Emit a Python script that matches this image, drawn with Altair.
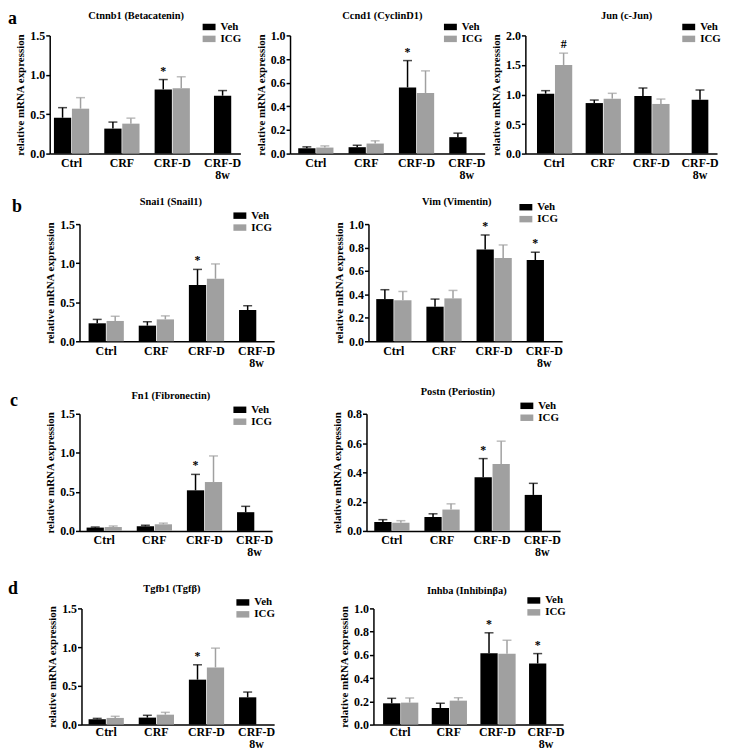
import altair as alt
import pandas as pd

# ---------------- data ----------------
CATEGORIES = ["Ctrl", "CRF", "CRF-D", "CRF-D 8w"]
GROUPS = ["Veh", "ICG"]
COLORS = ["#000000", "#a0a0a0"]
LETTERS = ["a", "b", "c", "d"]
Y_TITLE = "relative mRNA expression"

CTNNB1_VEH = [0.455, 0.317, 0.815, 0.735]
CTNNB1_VEH_ERR = [0.128, 0.083, 0.125, 0.065]
CTNNB1_ICG = [0.57, 0.38, 0.83]
CTNNB1_ICG_ERR = [0.14, 0.07, 0.145]
CTNNB1_SIG = [("CRF-D", "Veh", "*")]

CCND1_VEH = [0.045, 0.054, 0.56, 0.139]
CCND1_VEH_ERR = [0.012, 0.016, 0.227, 0.034]
CCND1_ICG = [0.051, 0.085, 0.513]
CCND1_ICG_ERR = [0.014, 0.023, 0.187]
CCND1_SIG = [("CRF-D", "Veh", "*")]

JUN_VEH = [1.014, 0.855, 0.975, 0.91]
JUN_VEH_ERR = [0.051, 0.051, 0.135, 0.166]
JUN_ICG = [1.50, 0.93, 0.84]
JUN_ICG_ERR = [0.20, 0.09, 0.083]
JUN_SIG = [("Ctrl", "ICG", "#")]

SNAI1_VEH = [0.23, 0.20, 0.72, 0.40]
SNAI1_VEH_ERR = [0.05, 0.05, 0.20, 0.055]
SNAI1_ICG = [0.26, 0.28, 0.80]
SNAI1_ICG_ERR = [0.06, 0.045, 0.19]
SNAI1_SIG = [("CRF-D", "Veh", "*")]

VIM_VEH = [0.36, 0.295, 0.783, 0.693]
VIM_VEH_ERR = [0.08, 0.065, 0.124, 0.067]
VIM_ICG = [0.35, 0.366, 0.71]
VIM_ICG_ERR = [0.075, 0.068, 0.112]
VIM_SIG = [("CRF-D", "Veh", "*"), ("CRF-D 8w", "Veh", "*")]

FN1_VEH = [0.043, 0.06, 0.52, 0.24]
FN1_VEH_ERR = [0.007, 0.012, 0.204, 0.075]
FN1_ICG = [0.05, 0.085, 0.626]
FN1_ICG_ERR = [0.014, 0.015, 0.334]
FN1_SIG = [("CRF-D", "Veh", "*")]

POSTN_VEH = [0.061, 0.095, 0.367, 0.246]
POSTN_VEH_ERR = [0.016, 0.022, 0.127, 0.079]
POSTN_ICG = [0.056, 0.146, 0.457]
POSTN_ICG_ERR = [0.014, 0.039, 0.156]
POSTN_SIG = [("CRF-D", "Veh", "*")]

TGFB1_VEH = [0.069, 0.09, 0.58, 0.352]
TGFB1_VEH_ERR = [0.011, 0.03, 0.192, 0.068]
TGFB1_ICG = [0.086, 0.128, 0.738]
TGFB1_ICG_ERR = [0.021, 0.03, 0.249]
TGFB1_SIG = [("CRF-D", "Veh", "*")]

INHBA_VEH = [0.183, 0.143, 0.614, 0.526]
INHBA_VEH_ERR = [0.043, 0.04, 0.176, 0.085]
INHBA_ICG = [0.189, 0.206, 0.609]
INHBA_ICG_ERR = [0.04, 0.025, 0.117]
INHBA_SIG = [("CRF-D", "Veh", "*"), ("CRF-D 8w", "Veh", "*")]

# ---------------- styling / layout ----------------
FONT = "Liberation Serif"
PI = 0.30          # gap between category groups
OFF_PAD = 0.04     # gap between Veh and ICG bars


def make_df(veh, veh_err, icg, icg_err, sig):
    sigmap = {(c, g): s for c, g, s in sig}
    rows = []
    for i, c in enumerate(CATEGORIES):
        for g, m, e in (("Veh", veh, veh_err), ("ICG", icg, icg_err)):
            if i < len(m):
                rows.append({"cat": c, "grp": g, "mean": m[i],
                             "top": m[i] + e[i], "sig": sigmap.get((c, g), "")})
    return pd.DataFrame(rows)


def band(W, c0, step):
    n = len(CATEGORIES)
    po = max(0.0, (W / step - (n - PI)) / 2)
    st = W / (n - PI + 2 * po)
    free = W - st * (n - PI)
    start = c0 - st * (1 - PI) / 2
    al = 0.5 if free <= 0 else min(1.0, max(0.0, start / free))
    bw = st * (1 - PI) * (1 - OFF_PAD) / (2 - OFF_PAD)
    return po, al, bw


def panel(df, title, ymax, ystep, W, H, c0, step, lx, ly, center_last, tx, ty, lpad=4):
    po, al, bw = band(W, c0, step)
    ticks = [round(k * ystep, 6) for k in range(int(round(ymax / ystep)) + 1)]
    xscale = alt.Scale(domain=CATEGORIES, paddingInner=PI, paddingOuter=po, align=al)
    xaxis = alt.Axis(title=None, labelExpr="split(datum.value, ' ')", ticks=False,
                     labelAngle=0, labelPadding=lpad, labelFont=FONT, labelFontSize=12,
                     labelFontWeight="bold", labelColor="black", labelLineHeight=12,
                     labelOverlap=False,
                     domainColor="black", domainWidth=1.5, grid=False)
    yaxis = alt.Axis(title=Y_TITLE, values=ticks, format=".1f", grid=False,
                     labelOverlap=False, labelFlush=False,
                     titleFont=FONT, titleFontSize=11, titleFontWeight="bold",
                     titleColor="black", titlePadding=4,
                     labelFont=FONT, labelFontSize=12, labelFontWeight="bold",
                     labelColor="black", labelPadding=1, tickSize=4, tickWidth=1.5,
                     tickColor="black", domainColor="black", domainWidth=1.5)
    cscale = alt.Scale(domain=GROUPS, range=COLORS)
    yscale = alt.Scale(domain=[0, ymax], nice=False)
    legend = alt.Legend(title=None, orient="none", legendX=lx, legendY=ly,
                        symbolType="M-1,-0.5H1V0.5H-1Z", symbolSize=169,
                        symbolStrokeWidth=0, symbolOpacity=1,
                        labelFont=FONT, labelFontSize=11, labelFontWeight="bold",
                        labelColor="black", labelOffset=5, rowPadding=0, padding=0)

    X = alt.X("cat:N", sort=CATEGORIES, scale=xscale, axis=xaxis)
    XO = alt.XOffset("grp:N", sort=GROUPS,
                     scale=alt.Scale(domain=GROUPS, paddingInner=OFF_PAD))
    Ym = alt.Y("mean:Q", scale=yscale, axis=yaxis)
    Yt = alt.Y("top:Q", scale=yscale, axis=yaxis)
    C = alt.Color("grp:N", scale=cscale, legend=legend)
    Cn = alt.Color("grp:N", scale=cscale, legend=None)
    last = CATEGORIES[-1]

    base = alt.Chart(df)
    paired = base.transform_filter(f"datum.cat != '{last}'") if center_last else base

    layers = [
        paired.mark_bar().encode(x=X, xOffset=XO, y=Ym, color=C),
        paired.mark_rule(strokeWidth=1.5).encode(
            x=X, xOffset=XO, y=Ym, y2="top:Q", color=Cn),
        paired.mark_tick(size=9, thickness=1.5).encode(
            x=X, xOffset=XO, y=Yt, color=Cn),
        paired.transform_filter("datum.sig != ''").mark_text(
            font=FONT, fontSize=12, fontWeight="bold", baseline="alphabetic",
            dy=-5, color="black").encode(x=X, xOffset=XO, y=Yt, text="sig:N"),
    ]
    if center_last:
        single = base.transform_filter(f"datum.cat == '{last}'")
        layers += [
            single.mark_bar(size=bw).encode(x=X, y=Ym, color=Cn),
            single.mark_rule(strokeWidth=1.5).encode(x=X, y=Ym, y2="top:Q", color=Cn),
            single.mark_tick(size=9, thickness=1.5).encode(x=X, y=Yt, color=Cn),
            single.transform_filter("datum.sig != ''").mark_text(
                font=FONT, fontSize=12, fontWeight="bold", baseline="alphabetic",
                dy=-5, color="black").encode(x=X, y=Yt, text="sig:N"),
        ]
    # panel title drawn as a text mark so its position ignores the legend
    layers.append(
        alt.Chart(pd.DataFrame({"t": [title]})).mark_text(
            font=FONT, fontSize=10.5, fontWeight="bold", color="black",
            align="center", baseline="middle").encode(
            text="t:N", x=alt.value(tx), y=alt.value(ty)))
    return alt.layer(*layers).properties(width=W, height=H)


def spacer(w, h=1, letter=None, lx=0, ly=0):
    d = pd.DataFrame({"letter": [letter or ""]})
    if letter is None:
        return alt.Chart(d).mark_text(text="").encode(
            x=alt.value(0), y=alt.value(0)).properties(width=w, height=h)
    box = alt.Chart(d).mark_rect(opacity=0).encode(
        x=alt.value(0), x2=alt.value(w), y=alt.value(0), y2=alt.value(h))
    txt = alt.Chart(d).mark_text(font=FONT, fontSize=18, fontWeight="bold",
                                 align="left", baseline="middle",
                                 color="black").encode(
        x=alt.value(lx), y=alt.value(ly), text="letter:N")
    return alt.layer(box, txt).properties(width=w, height=h)


def row(items):
    return alt.hconcat(*items, spacing=0, bounds="flush").resolve_scale(
        color="independent").resolve_legend(color="independent")


ctnnb1 = panel(make_df(CTNNB1_VEH, CTNNB1_VEH_ERR, CTNNB1_ICG, CTNNB1_ICG_ERR, CTNNB1_SIG),
               "Ctnnb1 (Betacatenin)", 1.5, 0.5, 192, 119, 22, 50.7, 154, -15, True, 87, -20)
ccnd1 = panel(make_df(CCND1_VEH, CCND1_VEH_ERR, CCND1_ICG, CCND1_ICG_ERR, CCND1_SIG),
              "Ccnd1 (CyclinD1)", 1.0, 0.2, 196, 119, 26, 50.7, 155, -15, False, 93, -20)
jun = panel(make_df(JUN_VEH, JUN_VEH_ERR, JUN_ICG, JUN_ICG_ERR, JUN_SIG),
            "Jun (c-Jun)", 2.0, 0.5, 193, 119, 29, 49, 158, -15, True, 102, -20)

snai1 = panel(make_df(SNAI1_VEH, SNAI1_VEH_ERR, SNAI1_ICG, SNAI1_ICG_ERR, SNAI1_SIG),
              "Snai1 (Snail1)", 1.5, 0.5, 196, 118, 27, 50.5, 155, -15, False, 92, -22)
vim = panel(make_df(VIM_VEH, VIM_VEH_ERR, VIM_ICG, VIM_ICG_ERR, VIM_SIG),
            "Vim (Vimentin)", 1.0, 0.2, 195, 118, 25.5, 50.5, 152, -23.5, False, 89, -22)

fn1 = panel(make_df(FN1_VEH, FN1_VEH_ERR, FN1_ICG, FN1_ICG_ERR, FN1_SIG),
            "Fn1 (Fibronectin)", 1.5, 0.5, 194, 118, 25, 50.5, 155, -10.5, False, 92, -18)
postn = panel(make_df(POSTN_VEH, POSTN_VEH_ERR, POSTN_ICG, POSTN_ICG_ERR, POSTN_SIG),
              "Postn (Periostin)", 0.8, 0.2, 195, 118, 25.5, 50.5, 155, -14.5, False, 92, -22)

tgfb1 = panel(make_df(TGFB1_VEH, TGFB1_VEH_ERR, TGFB1_ICG, TGFB1_ICG_ERR, TGFB1_SIG),
              "Tgfb1 (Tgf\u03b2)", 1.5, 0.5, 194, 117, 25, 50.5, 156, -12.5, False, 91, -20, 2)
inhba = panel(make_df(INHBA_VEH, INHBA_VEH_ERR, INHBA_ICG, INHBA_ICG_ERR, INHBA_SIG),
              "Inhba (Inhibin\u03b2a)", 1.0, 0.2, 191, 117, 27, 49, 155, -14.5, False, 94, -18, 2)

row_a = row([spacer(42, 162.5, LETTERS[0], 0, -16), ctnnb1, spacer(50), ccnd1, spacer(41), jun])
row_b = row([spacer(72, 163.75, LETTERS[1], 4, -16.8), snai1, spacer(95), vim])
row_c = row([spacer(72, 166.7, LETTERS[2], 2, -12.8), fn1, spacer(95), postn])
row_d = row([spacer(74, 117, LETTERS[3], 0, -19.3), tgfb1, spacer(100), inhba])

chart = alt.vconcat(row_a, row_b, row_c, row_d, spacing=0).resolve_scale(
    color="independent").resolve_legend(color="independent").properties(
    padding={"left": 0, "right": 0, "top": 0, "bottom": 0},
    background="white").configure_view(strokeWidth=0).configure_axis(labelOverlap=False)

chart.save("out.html", embed_options={"renderer": "svg", "actions": False})
